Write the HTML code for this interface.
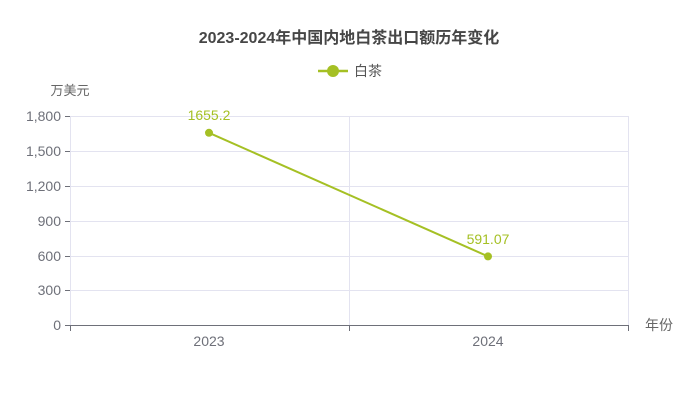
<!DOCTYPE html>
<html><head><meta charset="utf-8"><style>
html,body{margin:0;padding:0;background:#fff;}
svg{display:block;font-family:"Liberation Sans","Noto Sans CJK SC",sans-serif;}
</style></head><body>
<svg width="698" height="407" viewBox="0 0 698 407">
<text x="349" y="43" text-anchor="middle" font-size="16" font-weight="bold" fill="#464646">2023-2024年中国内地白茶出口额历年变化</text>
<line x1="318" y1="71" x2="348" y2="71" stroke="#a5c024" stroke-width="2.5"/>
<circle cx="333" cy="71" r="6" fill="#a5c024"/>
<text x="354" y="76" font-size="14" fill="#555">白茶</text>
<text x="70" y="95" text-anchor="middle" font-size="13" fill="#666">万美元</text>
<g stroke="#e3e3f0" stroke-width="1">
<line x1="70" y1="116.5" x2="628" y2="116.5"/>
<line x1="70" y1="151.5" x2="628" y2="151.5"/>
<line x1="70" y1="186.5" x2="628" y2="186.5"/>
<line x1="70" y1="221.5" x2="628" y2="221.5"/>
<line x1="70" y1="256.5" x2="628" y2="256.5"/>
<line x1="70" y1="290.5" x2="628" y2="290.5"/>
<line x1="349.5" y1="116" x2="349.5" y2="325"/>
<line x1="628.5" y1="116" x2="628.5" y2="325"/>
<line x1="70.5" y1="116" x2="70.5" y2="325"/>
</g>
<g stroke="#6e7079" stroke-width="1">
<line x1="70" y1="325.5" x2="629" y2="325.5"/>
<line x1="70.5" y1="325" x2="70.5" y2="331"/>
<line x1="349.5" y1="325" x2="349.5" y2="331"/>
<line x1="628.5" y1="325" x2="628.5" y2="331"/>
<line x1="65" y1="116.5" x2="70" y2="116.5"/>
<line x1="65" y1="151.5" x2="70" y2="151.5"/>
<line x1="65" y1="186.5" x2="70" y2="186.5"/>
<line x1="65" y1="221.5" x2="70" y2="221.5"/>
<line x1="65" y1="256.5" x2="70" y2="256.5"/>
<line x1="65" y1="290.5" x2="70" y2="290.5"/>
<line x1="65" y1="325.5" x2="70" y2="325.5"/>
</g>
<g font-size="14" fill="#6e7079" text-anchor="end">
<text x="61" y="121">1,800</text>
<text x="61" y="156">1,500</text>
<text x="61" y="191">1,200</text>
<text x="61" y="226">900</text>
<text x="61" y="261">600</text>
<text x="61" y="295">300</text>
<text x="61" y="330">0</text>
</g>
<g font-size="14" fill="#6e7079" text-anchor="middle">
<text x="209" y="346">2023</text>
<text x="488" y="346">2024</text>
</g>
<text x="645" y="330" font-size="14" fill="#666">年份</text>
<line x1="209" y1="132.8" x2="488" y2="256.4" stroke="#a5c024" stroke-width="2"/>
<circle cx="209" cy="132.8" r="4" fill="#a5c024"/>
<circle cx="488" cy="256.4" r="4" fill="#a5c024"/>
<text x="209" y="120" text-anchor="middle" font-size="14" fill="#a5c024">1655.2</text>
<text x="488" y="244" text-anchor="middle" font-size="14" fill="#a5c024">591.07</text>
</svg>
</body></html>
